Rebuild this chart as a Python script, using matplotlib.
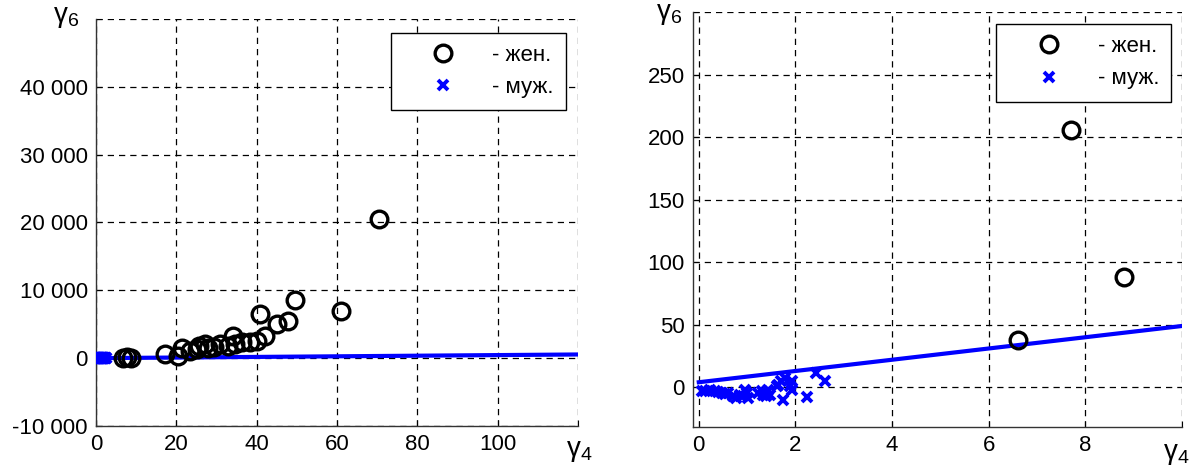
import matplotlib
matplotlib.use("Agg")
import matplotlib.pyplot as plt

plt.rcParams["font.family"] = ["Liberation Sans", "DejaVu Sans"]
plt.rcParams["mathtext.fontset"] = "custom"
plt.rcParams["mathtext.rm"] = "Liberation Sans"

# women (circles): gamma4, gamma6
women_g4 = [6.6, 7.7, 8.8, 17.2, 20.5, 21.3, 23.4, 25.1, 25.6, 27.1, 28.0,
            29.5, 30.9, 32.9, 34.2, 34.6, 36.3, 38.3, 40.0, 40.8, 42.1, 45.0, 47.9,
            49.5, 60.9, 70.5]
women_g6 = [38, 206, 88, 590, 340, 1570, 1080, 1330, 1800, 2070, 1570,
            1700, 2070, 1820, 3300, 2070, 2310, 2310, 2560, 6500, 3300, 5030, 5520,
            8590, 6900, 20500]

# men (crosses): gamma4, gamma6
men_g4 = [0.06, 0.12, 0.23, 0.33, 0.40, 0.47, 0.54, 0.60, 0.71, 0.78, 0.85, 0.92,
          0.99, 1.02, 1.23, 1.30, 1.37, 1.40, 1.47, 1.43, 1.61, 1.64, 1.71, 1.78,
          1.75, 1.88, 1.92, 1.92, 2.23, 2.42, 2.61, 0.95, 1.33]
men_g6 = [-3.4, -3.4, -2.6, -3.4, -4.2, -4.8, -5.3, -5.0, -7.5, -8.9, -6.2, -7.5,
          -4.8, -8.9, -4.8, -3.4, -4.8, -7.5, -6.2, -2.1, 0.5, 1.9, 4.6, 7.3,
          -10.5, 0.5, 4.6, -2.1, -8.3, 11.3, 4.6, -2.5, -6.0]

# boundary line (endpoints)
line_g4 = [0, 120]
line_g6 = [3.8, 544]

left_xticks = [0, 20, 40, 60, 80, 100, 120]
left_xlabels = ["0", "20", "40", "60", "80", "100", ""]
left_yticks = [-10000, 0, 10000, 20000, 30000, 40000, 50000]
left_ylabels = ["-10 000", "0", "10 000", "20 000", "30 000", "40 000", ""]

right_xticks = [0, 2, 4, 6, 8, 10]
right_xlabels = ["0", "2", "4", "6", "8", ""]
right_yticks = [0, 50, 100, 150, 200, 250, 300]
right_ylabels = ["0", "50", "100", "150", "200", "250", ""]

FS = 16
W, H = 1194, 465
fig = plt.figure(figsize=(W / 100, H / 100), dpi=100)
ax1 = fig.add_axes([96 / W, 1 - 426 / H, 482 / W, 407 / H])
ax2 = fig.add_axes([693 / W, 1 - 427 / H, 489 / W, 415 / H])


def style(ax, xt, xl, yt, yl, xlim, ylim):
    ax.plot(line_g4, line_g6, color="#0000ff", lw=3, zorder=2)
    ax.plot(women_g4, women_g6, ls="none", marker="o", ms=12, mfc="none",
            mec="black", mew=2.4, label="- жен.", zorder=3)
    ax.plot(men_g4, men_g6, ls="none", marker="x", ms=7.5, mec="#0000ff",
            mew=2.8, label="- муж.", zorder=3)
    ax.set_xlim(*xlim)
    ax.set_ylim(*ylim)
    ax.set_xticks(xt)
    ax.set_xticklabels(xl)
    ax.set_yticks(yt)
    ax.set_yticklabels(yl)
    ax.tick_params(direction="in", length=4, labelsize=FS, pad=6, colors="black")
    ax.grid(True, color="black", ls=(0, (5, 4)), lw=0.9)
    for s in ("top", "right"):
        ax.spines[s].set_visible(False)
    for s in ("left", "bottom"):
        ax.spines[s].set_color("#333333")
        ax.spines[s].set_linewidth(1.0)


style(ax1, left_xticks, left_xlabels, left_yticks, left_ylabels, (0, 120), (-10000, 50000))
style(ax2, right_xticks, right_xlabels, right_yticks, right_ylabels, (-0.12, 10), (-32, 300))

for ax, anchor in ((ax1, (0.975, 0.966)), (ax2, (0.978, 0.971))):
    leg = ax.legend(loc="upper right", bbox_to_anchor=anchor, fontsize=FS,
                    numpoints=1, handlelength=3.6, handletextpad=0.4,
                    borderpad=0.55, labelspacing=0.5, fancybox=False,
                    framealpha=1, edgecolor="black", borderaxespad=0)
    leg.get_frame().set_linewidth(1.0)

GL = r"$\mathregular{\gamma_{%s}}$"
ax1.text(-0.035, 1.005, GL % "6", transform=ax1.transAxes,
         ha="right", va="center", fontsize=20)
ax1.text(1.002, -0.062, GL % "4", transform=ax1.transAxes,
         ha="center", va="center", fontsize=20)
ax2.text(-0.022, 0.995, GL % "6", transform=ax2.transAxes,
         ha="right", va="center", fontsize=20)
ax2.text(0.988, -0.065, GL % "4", transform=ax2.transAxes,
         ha="center", va="center", fontsize=20)

fig.savefig("out.png", dpi=100)
